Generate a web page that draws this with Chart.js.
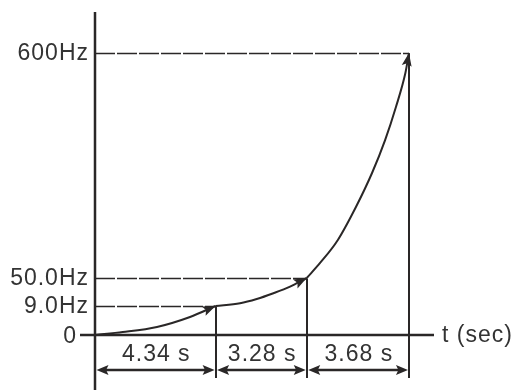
<!DOCTYPE html>
<html><head><meta charset="utf-8">
<script src="https://cdn.jsdelivr.net/npm/chart.js@4/dist/chart.umd.min.js"></script>
<style>html,body{margin:0;padding:0;background:#fff;}canvas{display:block;}</style>
</head><body>
<canvas id="c" width="512" height="390"></canvas>
<script>
// ---- data ----
const stageTimes = [4.34, 3.28, 3.68];          // seconds per stage
const stageFreqs = [9.0, 50.0, 600];            // Hz reached at end of each stage
const stageLabels = ['4.34 s', '3.28 s', '3.68 s'];
const freqTicks = [0, 9.0, 50.0, 600];
const freqTickLabels = ['0', '9.0Hz', '50.0Hz', '600Hz'];
const axisTitle = 't (sec)';

const seg1T = [0, 1.0, 2.23, 3.42, 4.34];
const seg1F = [0, 0.9, 2.5, 5.6, 9.0];
const seg2T = [4.34, 5.22, 5.82, 6.42, 7.02, 7.62];
const seg2F = [9.0, 13, 19.2, 27.6, 37.3, 50];
const seg3T = [7.62, 8.10, 8.74, 9.39, 9.97, 10.44, 10.83, 11.17, 11.3];
const seg3F = [50, 86.7, 143, 223.5, 306.6, 387, 468, 551, 600];

const INK = '#2a2727';
const TXT = '#333333';
const FONT = '23px "Liberation Sans", Arial, sans-serif';

// ---- piecewise (schematic) frequency scale ----
const Linear = Chart.LinearScale || Chart.registry.getScale('linear');
class PiecewiseScale extends Linear {
  static id = 'piecewise';
  static defaults = Object.assign({}, Linear.defaults);
  _seg(value) {
    const v = this.options.breakValues;
    let i = 0;
    while (i < v.length - 2 && value > v[i + 1]) i++;
    return i;
  }
  getPixelForValue(value) {
    if (value === null || value === undefined || isNaN(value)) return NaN;
    const v = this.options.breakValues, f = this.options.breakFractions;
    const i = this._seg(value);
    const d = f[i] + (value - v[i]) / (v[i + 1] - v[i]) * (f[i + 1] - f[i]);
    return this.getPixelForDecimal(d);
  }
  getValueForPixel(pixel) {
    const d = this.getDecimalForPixel(pixel);
    const v = this.options.breakValues, f = this.options.breakFractions;
    let i = 0;
    while (i < f.length - 2 && d > f[i + 1]) i++;
    return v[i] + (d - f[i]) / (f[i + 1] - f[i]) * (v[i + 1] - v[i]);
  }
}
Chart.register(PiecewiseScale);

const toPts = (T, F) => T.map((t, i) => ({x: t, y: F[i]}));

function line(ctx, x1, y1, x2, y2) {
  ctx.beginPath(); ctx.moveTo(x1, y1); ctx.lineTo(x2, y2); ctx.stroke();
}
function head(ctx, x, y, ang, len, half) {
  ctx.save();
  ctx.translate(x, y); ctx.rotate(ang);
  ctx.beginPath();
  ctx.moveTo(0, 0); ctx.lineTo(-len, -half); ctx.lineTo(-len * 0.8, 0); ctx.lineTo(-len, half);
  ctx.closePath(); ctx.fill();
  ctx.restore();
}

const diagram = {
  id: 'diagram',
  beforeDatasetsDraw(chart) {
    const {ctx, chartArea: a, scales: {x, y}} = chart;
    ctx.save();
    ctx.strokeStyle = INK;
    let t = 0;
    stageTimes.forEach((d, i) => {
      t += d;
      const px = Math.round(x.getPixelForValue(t));
      const py = Math.round(y.getPixelForValue(stageFreqs[i])) + 0.5;
      ctx.lineWidth = 1.6;
      ctx.setLineDash([20, 2]);
      line(ctx, a.left, py, px, py);
      ctx.setLineDash([]);
      ctx.lineWidth = 2;
      line(ctx, px, py, px, a.bottom + 43);
    });
    ctx.restore();
  },
  afterDatasetsDraw(chart) {
    const {ctx, chartArea: a, scales: {x, y}} = chart;
    ctx.save();
    ctx.strokeStyle = INK; ctx.fillStyle = INK;
    // axes
    ctx.lineWidth = 2.5;
    line(ctx, a.left, a.top, a.left, chart.height);
    line(ctx, a.left - 15, a.bottom, a.right, a.bottom);
    // arrowheads at the end of each curve segment
    chart.data.datasets.forEach((ds, i) => {
      const pts = chart.getDatasetMeta(i).data;
      const p = pts[pts.length - 1];
      let qx = p.cp1x, qy = p.cp1y;
      if (qx === undefined || (Math.abs(qx - p.x) < 0.5 && Math.abs(qy - p.y) < 0.5)) {
        qx = pts[pts.length - 2].x; qy = pts[pts.length - 2].y;
      }
      head(ctx, p.x, p.y, Math.atan2(p.y - qy, p.x - qx), 13, 5);
    });
    // dimension arrows
    const dimY = a.bottom + 35;
    ctx.lineWidth = 2.5;
    let t0 = 0;
    stageTimes.forEach((d, i) => {
      const x1 = x.getPixelForValue(t0) + 1.5, x2 = x.getPixelForValue(t0 + d) - 1;
      line(ctx, x1 + 6, dimY, x2 - 6, dimY);
      head(ctx, x2, dimY, 0, 12, 5);
      head(ctx, x1, dimY, Math.PI, 12, 5);
      t0 += d;
    });
    // texts
    ctx.fillStyle = TXT;
    ctx.font = FONT;
    try { ctx.letterSpacing = '1px'; } catch (e) {}
    ctx.textBaseline = 'middle';
    ctx.textAlign = 'center';
    t0 = 0;
    stageTimes.forEach((d, i) => {
      const cx = (x.getPixelForValue(t0) + x.getPixelForValue(t0 + d)) / 2;
      ctx.fillText(stageLabels[i], cx + 1, a.bottom + 20);
      t0 += d;
    });
    ctx.textAlign = 'right';
    freqTicks.forEach((f, i) => {
      const py = y.getPixelForValue(f);
      if (f === 0) ctx.fillText(freqTickLabels[i], a.left - 18, py + 2);
      else ctx.fillText(freqTickLabels[i], a.left - 6, py + 1);
    });
    ctx.textAlign = 'left';
    ctx.fillText(axisTitle, a.right + 8, a.bottom + 1);
    ctx.restore();
  }
};

const mk = (T, F) => ({
  data: toPts(T, F),
  borderColor: INK, borderWidth: 2, pointRadius: 0,
  cubicInterpolationMode: 'monotone', fill: false
});

new Chart(document.getElementById('c'), {
  type: 'line',
  data: { datasets: [mk(seg1T, seg1F), mk(seg2T, seg2F), mk(seg3T, seg3F)] },
  options: {
    responsive: false, animation: false, devicePixelRatio: 1,
    layout: { padding: { left: 95, top: 12, right: 78, bottom: 55 } },
    plugins: { legend: { display: false }, tooltip: { enabled: false } },
    scales: {
      x: { type: 'linear', min: 0, max: 12.2, display: false },
      y: { type: 'piecewise', min: 0, max: 600, display: false,
           breakValues: freqTicks,
           breakFractions: [0, 0.0898, 0.1765, 0.8731] }
    }
  },
  plugins: [diagram]
});
</script>
</body></html>
